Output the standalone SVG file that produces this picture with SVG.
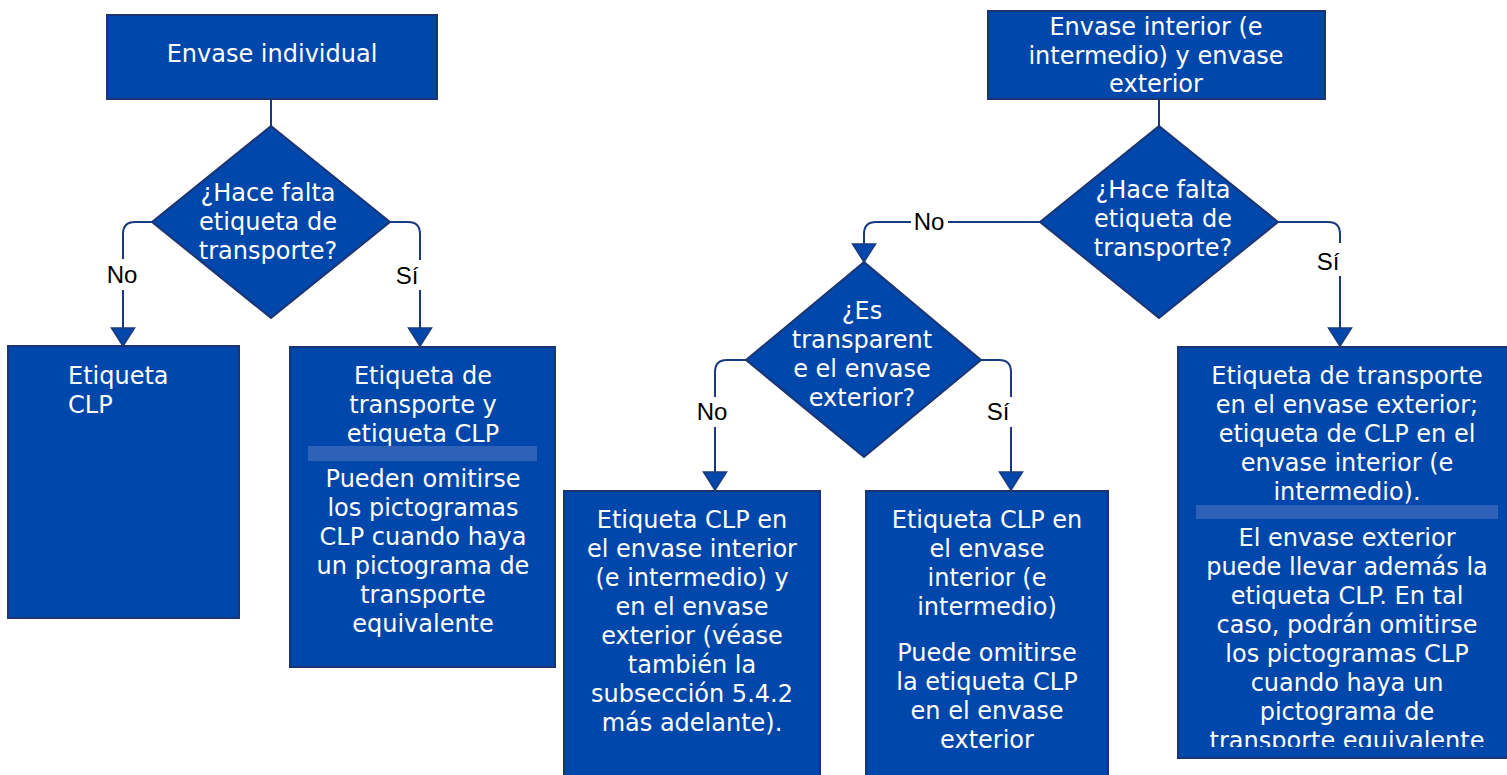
<svg xmlns="http://www.w3.org/2000/svg" width="1507" height="775" viewBox="0 0 1507 775">
<style>
.box{fill:#0047AB;stroke:#1C3572;stroke-width:2}
.t{font-family:"DejaVu Sans",Verdana,sans-serif;font-size:24px;fill:#fff;text-anchor:middle}
.tl{font-family:"DejaVu Sans",Verdana,sans-serif;font-size:24px;fill:#fff;text-anchor:start}
.lbl{font-family:"Liberation Sans",Arial,sans-serif;font-size:24px;fill:#000;text-anchor:middle}
.conn{fill:none;stroke:#1A3A80;stroke-width:2;marker-end:url(#arr)}
.plain{fill:none;stroke:#1A3A80;stroke-width:2}
.band{fill:#2D62B8}
.gap{fill:#fff}
</style>
<defs>
<marker id="arr" markerUnits="userSpaceOnUse" markerWidth="21" markerHeight="26" viewBox="-1.5 -1.5 21 26" refX="18" refY="11.5" orient="auto">
<path d="M0,0 L18,11.5 L0,23 Z" fill="#0047AB" stroke="#1A3A80" stroke-width="1.5" stroke-linejoin="miter"/>
</marker>
<clipPath id="clipG"><rect x="1178" y="347" width="340" height="400"/></clipPath>
</defs>
<rect width="1507" height="775" fill="#fff"/>

<g id="connectors">
<path class="plain" d="M271,99 V126"/>
<path class="conn" d="M152,222 H135 Q123,222 123,234 V346"/>
<path class="conn" d="M390,222 H408 Q420,222 420,234 V346"/>
<path class="plain" d="M1159,99 V126"/>
<path class="conn" d="M1040,222 H876 Q864,222 864,234 V262"/>
<path class="conn" d="M1278,222 H1328 Q1340,222 1340,234 V346"/>
<path class="conn" d="M746,360 H727 Q715,360 715,372 V490"/>
<path class="conn" d="M981,360 H999 Q1011,360 1011,372 V490"/>
<rect class="gap" x="106" y="259" width="33" height="31"/>
<text class="lbl" x="122" y="283">No</text>
<rect class="gap" x="393" y="260" width="30" height="30"/>
<text class="lbl" x="407" y="284">Sí</text>
<rect class="gap" x="911" y="208" width="37" height="28"/>
<text class="lbl" x="929" y="230">No</text>
<rect class="gap" x="1314" y="243" width="28" height="33"/>
<text class="lbl" x="1328" y="270">Sí</text>
<rect class="gap" x="695" y="397" width="34" height="30"/>
<text class="lbl" x="712" y="420">No</text>
<rect class="gap" x="984" y="397" width="29" height="30"/>
<text class="lbl" x="998" y="420">Sí</text>
</g>

<g id="n-envase-individual">
<rect class="box" x="107" y="15" width="330" height="84"/>
<text class="t" x="272" y="62">Envase individual</text>
</g>

<g id="n-pregunta-1">
<polygon class="box" points="271,126 390,222 271,318 152,222"/>
<text class="t" x="268" y="201">¿Hace falta</text>
<text class="t" x="268" y="230">etiqueta de</text>
<text class="t" x="268" y="259">transporte?</text>
</g>

<g id="n-etiqueta-clp">
<rect class="box" x="8" y="346" width="231" height="272"/>
<text class="tl" x="68" y="384">Etiqueta</text>
<text class="tl" x="68" y="413">CLP</text>
</g>

<g id="n-transporte-y-clp">
<rect class="box" x="290" y="347" width="265" height="320"/>
<text class="t" x="423" y="384">Etiqueta de</text>
<text class="t" x="423" y="413">transporte y</text>
<text class="t" x="423" y="442">etiqueta CLP</text>
<rect class="band" x="308" y="446" width="229" height="15"/>
<text class="t" x="423" y="487">Pueden omitirse</text>
<text class="t" x="423" y="516">los pictogramas</text>
<text class="t" x="423" y="545">CLP cuando haya</text>
<text class="t" x="423" y="574">un pictograma de</text>
<text class="t" x="423" y="603">transporte</text>
<text class="t" x="423" y="632">equivalente</text>
</g>

<g id="n-envase-interior-exterior">
<rect class="box" x="988" y="11" width="337" height="88"/>
<text class="t" x="1156" y="35">Envase interior (e</text>
<text class="t" x="1156" y="64">intermedio) y envase</text>
<text class="t" x="1156" y="92">exterior</text>
</g>

<g id="n-pregunta-2">
<polygon class="box" points="1159,126 1278,222 1159,318 1040,222"/>
<text class="t" x="1163" y="198">¿Hace falta</text>
<text class="t" x="1163" y="227">etiqueta de</text>
<text class="t" x="1163" y="256">transporte?</text>
</g>

<g id="n-pregunta-3">
<polygon class="box" points="864,262 981,360 864,457 746,360"/>
<text class="t" x="862" y="319">¿Es</text>
<text class="t" x="862" y="348">transparent</text>
<text class="t" x="862" y="377">e el envase</text>
<text class="t" x="862" y="406">exterior?</text>
</g>

<g id="n-clp-interior-exterior">
<rect class="box" x="564" y="491" width="256" height="300"/>
<text class="t" x="692" y="528">Etiqueta CLP en</text>
<text class="t" x="692" y="557">el envase interior</text>
<text class="t" x="692" y="586">(e intermedio) y</text>
<text class="t" x="692" y="615">en el envase</text>
<text class="t" x="692" y="644">exterior (véase</text>
<text class="t" x="692" y="673">también la</text>
<text class="t" x="692" y="702">subsección 5.4.2</text>
<text class="t" x="692" y="731">más adelante).</text>
</g>

<g id="n-clp-interior">
<rect class="box" x="866" y="491" width="242" height="300"/>
<text class="t" x="987" y="528">Etiqueta CLP en</text>
<text class="t" x="987" y="557">el envase</text>
<text class="t" x="987" y="586">interior (e</text>
<text class="t" x="987" y="615">intermedio)</text>
<text class="t" x="987" y="661">Puede omitirse</text>
<text class="t" x="987" y="690">la etiqueta CLP</text>
<text class="t" x="987" y="719">en el envase</text>
<text class="t" x="987" y="748">exterior</text>
</g>

<g id="n-transporte-exterior">
<rect class="box" x="1178" y="347" width="340" height="411"/>
<g clip-path="url(#clipG)">
<text class="t" x="1347" y="384">Etiqueta de transporte</text>
<text class="t" x="1347" y="413">en el envase exterior;</text>
<text class="t" x="1347" y="442">etiqueta de CLP en el</text>
<text class="t" x="1347" y="471">envase interior (e</text>
<text class="t" x="1347" y="500">intermedio).</text>
<rect class="band" x="1196" y="505" width="302" height="14"/>
<text class="t" x="1347" y="546">El envase exterior</text>
<text class="t" x="1347" y="575">puede llevar además la</text>
<text class="t" x="1347" y="604">etiqueta CLP. En tal</text>
<text class="t" x="1347" y="633">caso, podrán omitirse</text>
<text class="t" x="1347" y="662">los pictogramas CLP</text>
<text class="t" x="1347" y="691">cuando haya un</text>
<text class="t" x="1347" y="720">pictograma de</text>
<text class="t" x="1347" y="749">transporte equivalente</text>
</g>
</g>
</svg>
